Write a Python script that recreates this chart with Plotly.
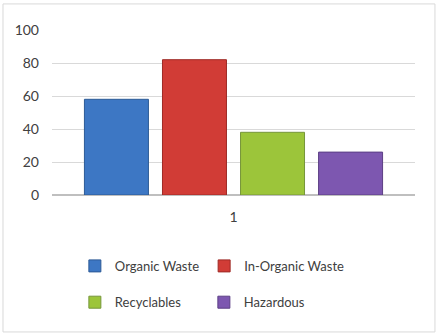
import plotly.graph_objects as go

categories = ["1"]
series_names = ["Organic Waste", "In-Organic Waste", "Recyclables", "Hazardous"]
series_values = [[58], [82], [38], [26]]
series_colors = ["#3d77c4", "#d13c36", "#9cc53a", "#7d57b0"]
line_colors = ["#2c5a96", "#9e2a26", "#76963a", "#5c3f85"]
legend_ids = ["legend", "legend", "legend2", "legend2"]
y_ticks = [0, 20, 40, 60, 80, 100]

fig = go.Figure()
for name, vals, col, lc, lg in zip(series_names, series_values, series_colors, line_colors, legend_ids):
    fig.add_trace(go.Bar(
        x=categories, y=vals, name=name,
        marker=dict(color=col, line=dict(color=lc, width=1)),
        legend=lg,
    ))

font_family = "Lato, 'Open Sans', sans-serif"
text_color = "#404040"

legend_common = dict(
    orientation="h", xanchor="left", yanchor="middle",
    font=dict(family=font_family, size=13, color=text_color),
    bgcolor="rgba(0,0,0,0)", itemclick=False,
)

fig.update_layout(
    width=441, height=336,
    margin=dict(l=52, r=26, t=30, b=141),
    paper_bgcolor="white", plot_bgcolor="white",
    barmode="group", bargap=0.14, bargroupgap=0.18,
    showlegend=True,
    legend=dict(x=0.063, y=-0.43, **legend_common),
    legend2=dict(x=0.063, y=-0.65, entrywidth=84, entrywidthmode="pixels", **legend_common),
    xaxis=dict(
        type="category", showgrid=False, showline=False, zeroline=False,
        ticks="", ticklabelstandoff=12,
        tickfont=dict(family=font_family, size=14, color=text_color),
    ),
    yaxis=dict(
        range=[0, 100], tickvals=y_ticks, showgrid=True,
        gridcolor="#d9d9d9", gridwidth=1,
        zeroline=True, zerolinecolor="#bfbfbf", zerolinewidth=2,
        showline=False, ticks="", ticklabelstandoff=12,
        tickfont=dict(family=font_family, size=14, color=text_color),
    ),
    shapes=[dict(
        type="rect", xref="paper", yref="paper",
        x0=-0.135, x1=1.055, y0=-0.830, y1=1.158,
        line=dict(color="#d9d9d9", width=1), fillcolor="rgba(0,0,0,0)",
        layer="below",
    )],
)

fig.write_html("out.html", config={"displayModeBar": False},
               post_script="document.body.style.margin='0';")
